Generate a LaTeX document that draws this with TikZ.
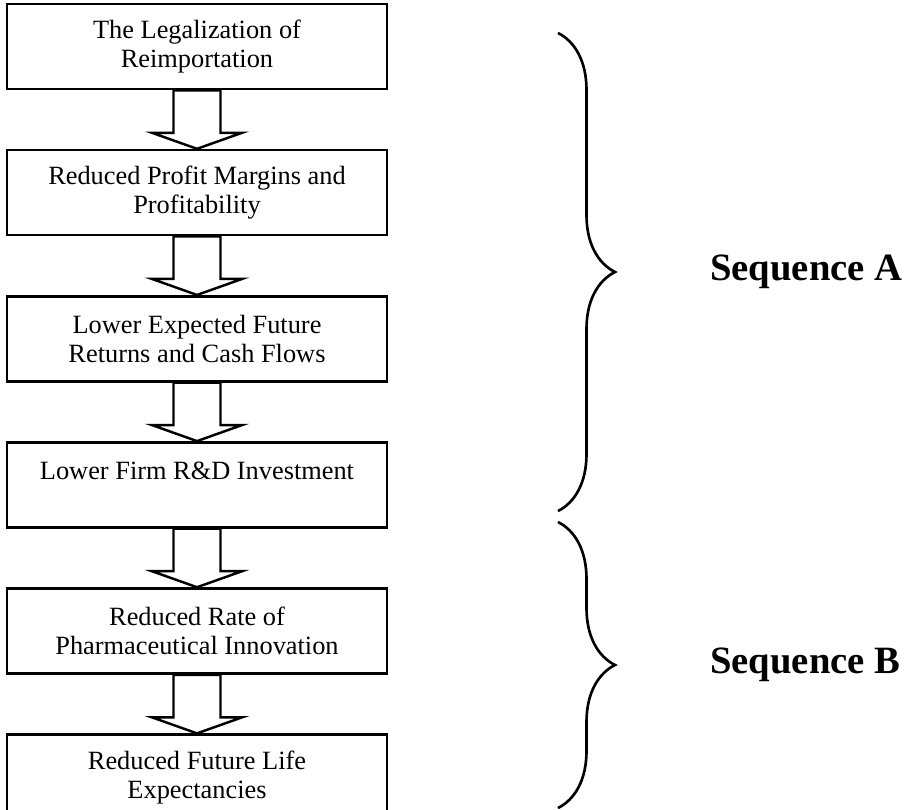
\documentclass[tikz,border=0pt]{standalone}
\usepackage{fontspec}
\setmainfont{Liberation Serif}
\usetikzlibrary{positioning,calc,decorations.pathreplacing}

\begin{document}
\begin{tikzpicture}[
        box/.style={draw, line width=1.5pt, minimum width=7.6cm, minimum height=1.7cm, align=center, inner sep=2pt, font=\fontsize{15}{16.5}\selectfont},
        blockarrow/.style={line width=1.4pt},
        seqbrace/.style={decorate, decoration={brace, amplitude=1.14cm}, line width=1.5pt},
        seqlabel/.style={right, font=\fontsize{22}{26}\selectfont\bfseries},
        node distance=1.17cm
    ]
        % Rahmen
        \useasboundingbox (0, 0) rectangle (18.1, -16.2);

        % Kette der Kaestchen
        \node[box] (legal) at (3.94, -0.93) {The Legalization of\\Reimportation};
        \node[box, below=of legal] (margins) {Reduced Profit Margins and\\Profitability};
        \node[box, below=of margins] (returns) {Lower Expected Future\\Returns and Cash Flows};
        \node[box, below=of returns] (rnd) {Lower Firm R\&D Investment\\ \mbox{}};
        \node[box, below=of rnd] (innovation) {Reduced Rate of\\Pharmaceutical Innovation};
        \node[box, below=of innovation] (lifeexp) {Reduced Future Life\\Expectancies};

        % Blockpfeile
        \foreach \src/\dst in {legal/margins, margins/returns, returns/rnd, rnd/innovation, innovation/lifeexp} {
            \draw[blockarrow] ($(\src.south)+(-0.47, 0)$) -- ($(\dst.north)+(-0.47, 0.32)$) -- ($(\dst.north)+(-0.9, 0.32)$) -- (\dst.north) -- ($(\dst.north)+(0.9, 0.32)$) -- ($(\dst.north)+(0.47, 0.32)$) -- ($(\src.south)+(0.47, 0)$) -- cycle;
        }

        % Klammern
        \draw[seqbrace] (11.16, -0.66) -- (11.16, -10.22) node[seqlabel, midway, xshift=2.9cm] (seqA) {Sequence A};
        \draw[seqbrace] (11.16, -10.44) -- (11.16, -16.16) node[seqlabel, midway, xshift=2.9cm] (seqB) {Sequence B};
    \end{tikzpicture}
\end{document}
